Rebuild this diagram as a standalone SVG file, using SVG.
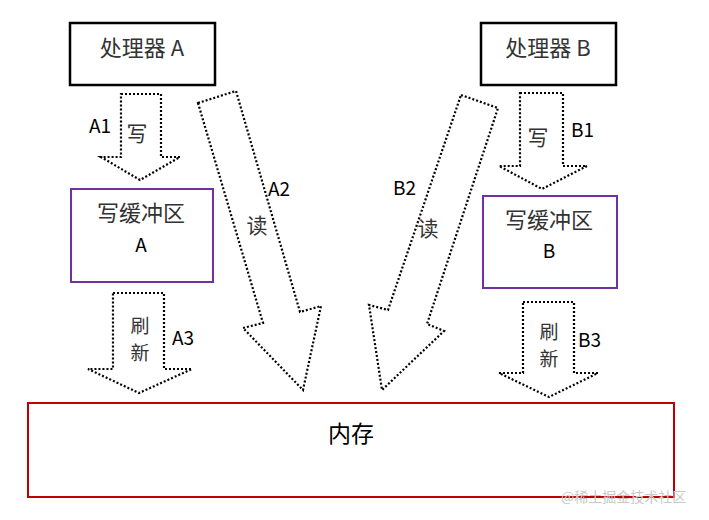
<svg xmlns="http://www.w3.org/2000/svg" width="709" height="520" viewBox="0 0 709 520">
<style>
text{font-family:"Noto Sans CJK SC","Noto Sans",sans-serif;}
.proc{fill:#fff;stroke:#000;stroke-width:2.5;}
.buf{fill:#fff;stroke:#7030A0;stroke-width:2;}
.mem{fill:#fff;stroke:#C00000;stroke-width:2;}
.arr{fill:none;stroke:#000;stroke-width:2.2;stroke-dasharray:2 2;stroke-linejoin:miter;}
.cjk{font-size:21px;fill:#333;}
.big{font-size:22px;}
.v{font-size:19px;}
.lbl{font-size:19px;fill:#000;}
.mid{text-anchor:middle;}
</style>
<rect width="709" height="520" fill="#fff"/>
<g id="procA"><rect class="proc" x="70" y="23" width="145" height="62"/><text class="cjk big mid" x="142" y="56">处理器 A</text></g>
<g id="procB"><rect class="proc" x="481" y="23" width="135" height="62"/><text class="cjk big mid" x="548" y="56">处理器 B</text></g>
<g id="bufA"><rect class="buf" x="71" y="189" width="142" height="93"/><text class="cjk big mid" x="141" y="221">写缓冲区</text><text class="lbl mid" x="141" y="252">A</text></g>
<g id="bufB"><rect class="buf" x="483" y="196" width="134" height="92"/><text class="cjk big mid" x="549" y="228">写缓冲区</text><text class="lbl mid" x="549" y="258">B</text></g>
<g id="mem"><rect class="mem" x="28" y="403" width="646" height="94"/><text class="mid" x="351" y="442" style="font-size:23px;fill:#000">内存</text></g>
<g id="connectors">
<polygon class="arr" points="121,94 161,94 161,157 180,157 140,180 101,157 121,157"/>
<polygon class="arr" points="113,293 164,293 164,369 192,369 139,393 88,369 113,369"/>
<polygon class="arr" points="520,93 563,93 563,166 587,166 542,189 499,166 520,166"/>
<polygon class="arr" points="523,302 574,302 574,373 598,373 549,397 499,373 523,373"/>
<polygon class="arr" points="198,103 236,91 300,312 321,306 303,390 243,328 263,323"/>
<polygon class="arr" points="461,95 498,108 427,324 444,331 382,390 369,305 388,310"/>
<text class="lbl" x="89" y="133">A1</text>
<text class="cjk mid" x="137" y="141">写</text>
<text class="lbl" x="268" y="196">A2</text>
<text class="cjk mid" x="257" y="233">读</text>
<text class="lbl" x="172" y="345">A3</text>
<text class="cjk v mid" x="140" y="333">刷</text>
<text class="cjk v mid" x="140" y="360">新</text>
<text class="lbl" x="571" y="137">B1</text>
<text class="cjk mid" x="538" y="145">写</text>
<text class="lbl" x="393" y="195">B2</text>
<text class="cjk mid" x="428" y="236">读</text>
<text class="lbl" x="578" y="347">B3</text>
<text class="cjk v mid" x="549" y="339">刷</text>
<text class="cjk v mid" x="549" y="366">新</text>
</g>
<text x="561" y="502" style="font-size:14px;fill:#c8c8c8">@稀土掘金技术社区</text>
</svg>
